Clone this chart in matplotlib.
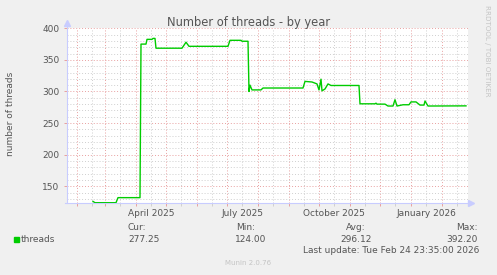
import numpy as np
import matplotlib
matplotlib.use('Agg')
import matplotlib.pyplot as plt
import matplotlib.dates as mdates
from matplotlib.patches import Rectangle
from matplotlib.ticker import MultipleLocator, FuncFormatter

# data: day offsets from 2025-01-01 and thread counts
days = [47, 49, 70, 72, 94, 95, 100, 101, 106, 107, 109, 110, 136, 140, 143,
        182, 184, 195, 196, 202, 203, 204, 206, 215, 217, 257, 259, 266, 271,
        273, 275, 276, 279, 282, 285, 313, 314, 329, 330, 331, 339, 342, 347,
        349, 351, 357, 363, 365, 370, 374, 378, 379, 382, 420]
threads = [126, 124, 124, 132, 132, 375, 375, 382.5, 382.5, 384, 384, 368.5,
           368.5, 378, 371.5, 371.5, 381, 381, 379.5, 379.5, 300, 310, 302.5,
           302.5, 305.5, 305.5, 316, 315, 312, 302.5, 319.5, 301, 304, 312,
           309.5, 309.5, 280.5, 280.5, 281.5, 280, 280, 277, 277, 287, 277,
           279, 279, 283.5, 283.5, 278.5, 278.5, 285, 277, 277.25]

stat_names = ['Cur:', 'Min:', 'Avg:', 'Max:']
stat_values = ['277.25', '124.00', '296.12', '392.20']
label_months = [1, 4, 7, 10]

base = np.datetime64('2025-01-01')
dates = base + np.array(days, dtype='timedelta64[D]')

W, H = 497, 275
txt = '#555555'
faint = '#c4c4c4'
axcol = '#c8ccff'

fig = plt.figure(figsize=(W / 100, H / 100), dpi=100, facecolor='#f0f0f0')
ax = fig.add_axes([67 / W, 1 - 202.7 / H, 401 / W, 174.4 / H])
ax.set_facecolor('white')

ax.plot(dates, threads, color='#00cc00', linewidth=1.0)

ax.set_xlim(base + np.timedelta64(21, 'D'), base + np.timedelta64(422, 'D'))
ax.set_ylim(124, 400)

# x grid: red at month starts, grey mid-month, labels on quarters
ax.xaxis.set_major_locator(mdates.MonthLocator(bymonthday=1))
ax.xaxis.set_minor_locator(mdates.MonthLocator(bymonthday=16))
ax.xaxis.set_major_formatter(FuncFormatter(lambda v, p: ''))


def quarter_label(v, p):
    d = mdates.num2date(v)
    return d.strftime('%B %Y') if d.month in label_months else ''


ax.xaxis.set_minor_formatter(FuncFormatter(quarter_label))

ax.yaxis.set_major_locator(MultipleLocator(50))
ax.yaxis.set_minor_locator(MultipleLocator(10))

dots = (0, (1, 2))
ax.grid(which='major', color='#e8a0a0', linestyle=dots, linewidth=0.7)
ax.grid(which='minor', color='#cfcfcf', linestyle=dots, linewidth=0.7)
ax.set_axisbelow(True)

ax.tick_params(which='major', length=2, width=0.7, color='#e8a0a0',
               labelsize=6.5, labelcolor=txt)
ax.tick_params(which='minor', length=2, width=0.7, color='#cfcfcf',
               labelsize=6.5, labelcolor=txt)
ax.tick_params(axis='y', which='both', pad=3.5)
ax.tick_params(axis='x', which='both', pad=2.5)
ax.tick_params(axis='y', which='minor', length=0)

for s in ax.spines.values():
    s.set_visible(False)

# axis lines with arrows
ax.plot([-0.005, 1.008], [0, 0], transform=ax.transAxes, color=axcol,
        linewidth=0.8, clip_on=False)
ax.plot([0, 0], [0, 1.03], transform=ax.transAxes, color=axcol,
        linewidth=0.8, clip_on=False)
ax.plot([1.008], [0], transform=ax.transAxes, marker='>', markersize=4,
        color=axcol, clip_on=False)
ax.plot([0], [1.03], transform=ax.transAxes, marker='^', markersize=4,
        color=axcol, clip_on=False)


def ftext(x, y, s, **kw):
    kw.setdefault('color', txt)
    kw.setdefault('fontsize', 6.5)
    fig.text(x / W, 1 - y / H, s, **kw)


ftext(248.5, 26, 'Number of threads - by year', fontsize=8.3,
      ha='center', va='baseline')
ftext(11, 114, 'number of threads', rotation=90, ha='center', va='center')
ftext(487.5, 51, 'RRDTOOL / TOBI OETIKER', rotation=270, fontsize=5.1,
      color=faint, ha='center', va='center')

fig.add_artist(Rectangle((14 / W, 1 - 242 / H), 5.3 / W, 5.3 / H,
                         transform=fig.transFigure, color='#00cc00'))
ftext(20.5, 241.7, 'threads', va='baseline')

name_x = [128, 236.5, 346, 455.7]
value_x = [128, 235, 340.7, 446.7]
for name, val, nx, vx in zip(stat_names, stat_values, name_x, value_x):
    ftext(nx, 230, name, va='baseline')
    ftext(vx, 241.7, val, va='baseline')

ftext(303, 253.3, 'Last update: Tue Feb 24 23:35:00 2026', va='baseline')
ftext(225, 265, 'Munin 2.0.76', fontsize=5, color=faint, va='baseline')

fig.savefig('out.png', dpi=100, facecolor=fig.get_facecolor())
